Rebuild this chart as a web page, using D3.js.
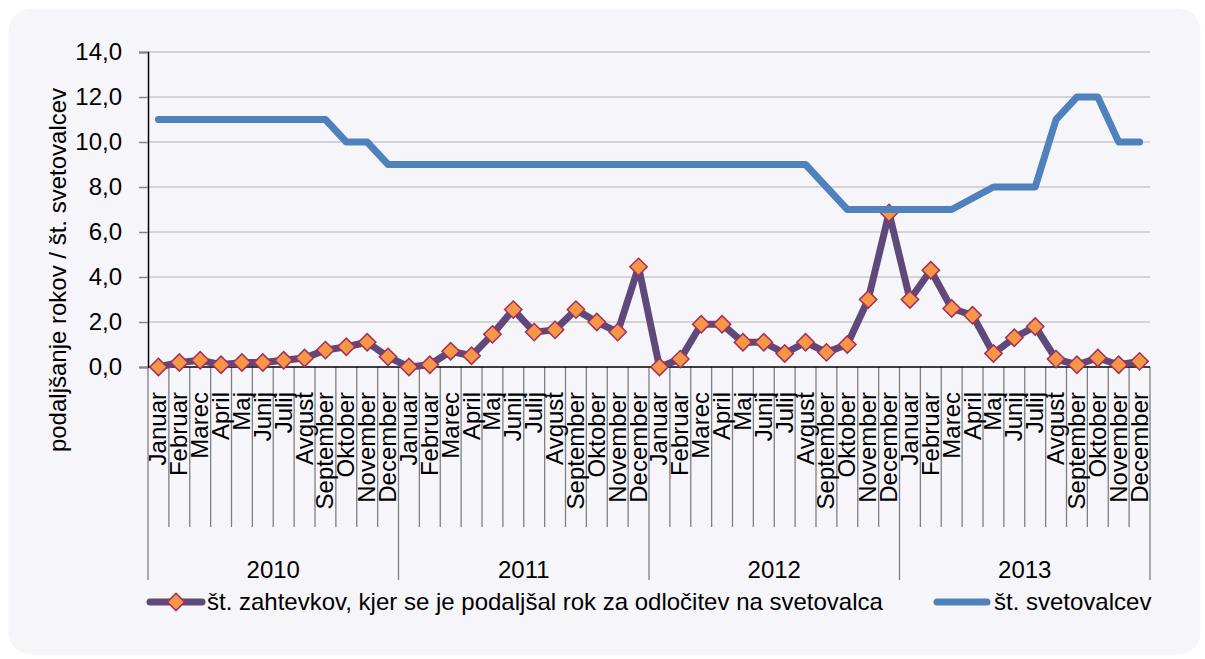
<!DOCTYPE html>
<html>
<head>
<meta charset="utf-8">
<script src="https://cdn.jsdelivr.net/npm/d3@7"></script>
<style>
  html, body { margin: 0; padding: 0; background: #ffffff; }
  svg { display: block; }
  text { font-family: "Liberation Sans", Arial, sans-serif; fill: #000; }
</style>
</head>
<body>
<svg id="chart" width="1205" height="659"></svg>
<script>
const years = ["2010", "2011", "2012", "2013"];
const months = ["Januar", "Februar", "Marec", "April", "Maj", "Junij", "Julij", "Avgust", "September", "Oktober", "November", "December"];
const yTicks = [0, 2, 4, 6, 8, 10, 12, 14];
const seriesNames = ["št. zahtevkov, kjer se je podaljšal rok za odločitev na svetovalca", "št. svetovalcev"];
const yTitle = "podaljšanje rokov / št. svetovalcev";

const requests = [
  0.0, 0.2, 0.3, 0.1, 0.2, 0.2, 0.3, 0.4, 0.75, 0.9, 1.1, 0.45,
  0.0, 0.1, 0.7, 0.5, 1.45, 2.55, 1.55, 1.65, 2.55, 2.0, 1.55, 4.45,
  0.0, 0.35, 1.9, 1.9, 1.1, 1.1, 0.6, 1.1, 0.65, 1.0, 3.0, 6.85,
  3.0, 4.3, 2.6, 2.3, 0.6, 1.3, 1.8, 0.35, 0.1, 0.4, 0.1, 0.25
];
const consultants = [
  11, 11, 11, 11, 11, 11, 11, 11, 11, 10, 10, 9,
  9, 9, 9, 9, 9, 9, 9, 9, 9, 9, 9, 9,
  9, 9, 9, 9, 9, 9, 9, 9, 8, 7, 7, 7,
  7, 7, 7, 7.5, 8, 8, 8, 11, 12, 12, 10, 10
];

(function () {
const svg = d3.select("#chart");
const FS = 24;

// panel background
svg.append("rect")
  .attr("x", 8.5).attr("y", 8.5).attr("width", 1192).attr("height", 646)
  .attr("rx", 22).attr("ry", 22)
  .attr("fill", "#f6f5fa");

const pL = 148, pR = 1150, pT = 52, pB = 367;
const idx = d3.range(years.length * months.length);
const x = d3.scaleBand().domain(idx).range([pL, pR]).paddingInner(0).paddingOuter(0);
const xc = i => x(i) + x.bandwidth() / 2;
const y = d3.scaleLinear().domain([0, 14]).range([pB, pT]);

// gridlines
svg.append("g").selectAll("line").data(yTicks.filter(d => d > 0)).join("line")
  .attr("x1", pL).attr("x2", pR)
  .attr("y1", d => y(d)).attr("y2", d => y(d))
  .attr("stroke", "#c9c8cc").attr("stroke-width", 1.5);

// y axis
const yAxis = d3.axisLeft(y).tickValues(yTicks).tickSize(9).tickPadding(17)
  .tickFormat(d => d3.format(".1f")(d).replace(".", ","));
const gy = svg.append("g").attr("transform", `translate(${pL},0)`).call(yAxis);
gy.select(".domain").attr("stroke", "#000").attr("stroke-width", 1.5);
gy.selectAll(".tick line").attr("stroke", "#868686").attr("stroke-width", 1.5);
gy.selectAll(".tick text").attr("font-size", FS).attr("font-family", "Liberation Sans, Arial, sans-serif").attr("fill", "#000");

// y title
svg.append("text")
  .attr("transform", `translate(66,${(455 + 85) / 2}) rotate(-90)`)
  .attr("text-anchor", "middle")
  .attr("font-size", FS)
  .text(yTitle);

// x axis: category boundaries
const bounds = d3.range(idx.length + 1);
svg.append("g").selectAll("line").data(bounds).join("line")
  .attr("x1", i => pL + i * x.bandwidth()).attr("x2", i => pL + i * x.bandwidth())
  .attr("y1", pB)
  .attr("y2", i => (i % 12 === 0) ? 580 : 527)
  .attr("stroke", "#7f7f7f").attr("stroke-width", 1.3);

svg.append("line")
  .attr("x1", pL).attr("x2", pR).attr("y1", pB).attr("y2", pB)
  .attr("stroke", "#000").attr("stroke-width", 1.5);

// month labels
svg.append("g").selectAll("text").data(idx).join("text")
  .attr("transform", i => `translate(${xc(i) + 8},392) rotate(-90)`)
  .attr("text-anchor", "end")
  .attr("font-size", FS)
  .text(i => months[i % 12]);

// year labels
const yearScale = d3.scaleBand().domain(years).range([pL, pR]);
svg.append("g").selectAll("text").data(years).join("text")
  .attr("x", d => yearScale(d) + yearScale.bandwidth() / 2)
  .attr("y", 578)
  .attr("text-anchor", "middle")
  .attr("font-size", FS)
  .text(d => d);

// purple series
const purple = "#5f497a", blue = "#4f81bd";
const markerFill = "#f79646", markerStroke = "#a0305e";
const line1 = d3.line().x((d, i) => xc(i)).y(d => y(d));
svg.append("path").datum(requests)
  .attr("d", line1).attr("fill", "none")
  .attr("stroke", purple).attr("stroke-width", 7)
  .attr("stroke-linejoin", "round").attr("stroke-linecap", "round");

const diamond = d3.symbol().type(d3.symbolSquare).size(150);
svg.append("g").selectAll("path").data(requests).join("path")
  .attr("d", diamond)
  .attr("transform", (d, i) => `translate(${xc(i)},${y(d)}) rotate(45)`)
  .attr("fill", markerFill).attr("stroke", markerStroke).attr("stroke-width", 1.5);

// blue series
svg.append("path").datum(consultants)
  .attr("d", line1).attr("fill", "none")
  .attr("stroke", blue).attr("stroke-width", 7)
  .attr("stroke-linejoin", "round").attr("stroke-linecap", "round");

// legend
const ly = 602;
svg.append("line").attr("x1", 150).attr("x2", 202).attr("y1", ly).attr("y2", ly)
  .attr("stroke", purple).attr("stroke-width", 7).attr("stroke-linecap", "round");
svg.append("path").attr("d", diamond)
  .attr("transform", `translate(176,${ly}) rotate(45)`)
  .attr("fill", markerFill).attr("stroke", markerStroke).attr("stroke-width", 1.5);
svg.append("text").attr("x", 207).attr("y", 610).attr("font-size", FS).text(seriesNames[0]);

svg.append("line").attr("x1", 937).attr("x2", 987).attr("y1", ly).attr("y2", ly)
  .attr("stroke", blue).attr("stroke-width", 7).attr("stroke-linecap", "round");
svg.append("text").attr("x", 994).attr("y", 610).attr("font-size", FS).text(seriesNames[1]);
})();
</script>
</body>
</html>
